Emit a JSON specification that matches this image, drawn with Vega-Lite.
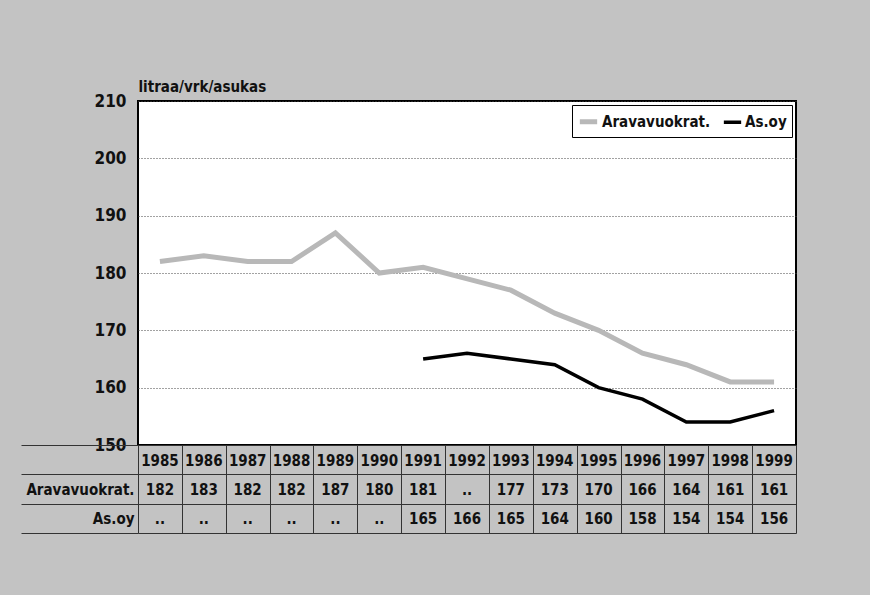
{
  "$schema": "https://vega.github.io/schema/vega-lite/v6.json",
  "background": "#c3c3c3",
  "padding": {"left": 20, "top": 78, "right": 80, "bottom": 70},
  "spacing": 0,
  "bounds": "flush",
  "config": {
    "font": "'DejaVu Sans Condensed', 'Liberation Sans Narrow', 'Noto Sans', sans-serif",
    "axis": {"labelFont": "'DejaVu Sans Condensed', 'Liberation Sans Narrow', sans-serif", "titleFont": "'DejaVu Sans Condensed', 'Liberation Sans Narrow', sans-serif", "labelFontWeight": "bold", "titleFontWeight": "bold", "labelColor": "#111", "titleColor": "#111"},
    "legend": {"labelFont": "'DejaVu Sans Condensed', 'Liberation Sans Narrow', sans-serif"}
  },
  "datasets": {
    "d": [
      {"year": "1985", "series": "Aravavuokrat.", "value": 182, "label": "182"},
      {"year": "1986", "series": "Aravavuokrat.", "value": 183, "label": "183"},
      {"year": "1987", "series": "Aravavuokrat.", "value": 182, "label": "182"},
      {"year": "1988", "series": "Aravavuokrat.", "value": 182, "label": "182"},
      {"year": "1989", "series": "Aravavuokrat.", "value": 187, "label": "187"},
      {"year": "1990", "series": "Aravavuokrat.", "value": 180, "label": "180"},
      {"year": "1991", "series": "Aravavuokrat.", "value": 181, "label": "181"},
      {"year": "1992", "series": "Aravavuokrat.", "value": null, "label": ".."},
      {"year": "1993", "series": "Aravavuokrat.", "value": 177, "label": "177"},
      {"year": "1994", "series": "Aravavuokrat.", "value": 173, "label": "173"},
      {"year": "1995", "series": "Aravavuokrat.", "value": 170, "label": "170"},
      {"year": "1996", "series": "Aravavuokrat.", "value": 166, "label": "166"},
      {"year": "1997", "series": "Aravavuokrat.", "value": 164, "label": "164"},
      {"year": "1998", "series": "Aravavuokrat.", "value": 161, "label": "161"},
      {"year": "1999", "series": "Aravavuokrat.", "value": 161, "label": "161"},
      {"year": "1985", "series": "As.oy", "value": null, "label": ".."},
      {"year": "1986", "series": "As.oy", "value": null, "label": ".."},
      {"year": "1987", "series": "As.oy", "value": null, "label": ".."},
      {"year": "1988", "series": "As.oy", "value": null, "label": ".."},
      {"year": "1989", "series": "As.oy", "value": null, "label": ".."},
      {"year": "1990", "series": "As.oy", "value": null, "label": ".."},
      {"year": "1991", "series": "As.oy", "value": 165, "label": "165"},
      {"year": "1992", "series": "As.oy", "value": 166, "label": "166"},
      {"year": "1993", "series": "As.oy", "value": 165, "label": "165"},
      {"year": "1994", "series": "As.oy", "value": 164, "label": "164"},
      {"year": "1995", "series": "As.oy", "value": 160, "label": "160"},
      {"year": "1996", "series": "As.oy", "value": 158, "label": "158"},
      {"year": "1997", "series": "As.oy", "value": 154, "label": "154"},
      {"year": "1998", "series": "As.oy", "value": 154, "label": "154"},
      {"year": "1999", "series": "As.oy", "value": 156, "label": "156"}
    ]
  },
  "resolve": {"scale": {"x": "independent", "y": "independent"}},
  "vconcat": [
    {
      "width": 658,
      "height": 344,
      "view": {"fill": "white", "stroke": "black", "strokeWidth": 2},
      "data": {"name": "d"},
      "transform": [{"filter": "datum.value != null"}],
      "mark": {"type": "line", "strokeJoin": "miter"},
      "encoding": {
        "x": {"field": "year", "type": "ordinal", "scale": {"type": "point", "padding": 0.5}, "axis": null},
        "y": {
          "field": "value", "type": "quantitative",
          "scale": {"domain": [150, 210], "nice": false, "zero": false},
          "axis": {
            "values": [150, 160, 170, 180, 190, 200, 210],
            "title": "litraa/vrk/asukas", "titleAngle": 0, "titleAlign": "left", "titleBaseline": "alphabetic",
            "titleX": 0, "titleY": -10, "titleFontSize": 15,
            "labelFontSize": 17, "labelPadding": 12, "ticks": false, "domain": false,
            "grid": true, "gridColor": "#444", "gridDash": [1, 2], "gridWidth": 1
          }
        },
        "color": {
          "field": "series", "type": "nominal",
          "scale": {"domain": ["Aravavuokrat.", "As.oy"], "range": ["#b8b8b8", "#000000"]},
          "legend": {
            "title": null, "orient": "top-right", "direction": "horizontal", "offset": 4,
            "fillColor": "white", "strokeColor": "black", "padding": 5,
            "symbolType": "stroke", "symbolSize": 300, "labelFontSize": 15,
            "labelFontWeight": "bold", "labelColor": "#111", "columnPadding": 5, "symbolOffset": 0, "labelOffset": 2
          }
        },
        "strokeWidth": {
          "field": "series", "type": "nominal",
          "scale": {"domain": ["Aravavuokrat.", "As.oy"], "range": [5, 3.5]},
          "legend": {
            "title": null, "orient": "top-right", "direction": "horizontal", "offset": 4,
            "fillColor": "white", "strokeColor": "black", "padding": 5,
            "symbolType": "stroke", "symbolSize": 300, "labelFontSize": 15,
            "labelFontWeight": "bold", "labelColor": "#111", "columnPadding": 5, "symbolOffset": 0, "labelOffset": 2
          }
        }
      }
    },
    {
      "width": 658,
      "height": 88,
      "view": {"stroke": null},
      "data": {"name": "d"},
      "encoding": {
        "x": {
          "field": "year", "type": "ordinal",
          "scale": {"type": "band", "paddingInner": 0, "paddingOuter": 0},
          "axis": {"orient": "bottom", "labels": false, "ticks": false, "domain": false, "title": null,
                   "minExtent": 0, "maxExtent": 0, "offset": 0,
                   "grid": true, "tickBand": "extent", "gridColor": "#333", "gridWidth": 1}
        }
      },
      "layer": [
        {
          "transform": [{"filter": "datum.series == 'As.oy'"}],
          "mark": {"type": "text", "fontSize": 15, "fontWeight": "bold", "color": "#111", "align": "center", "baseline": "middle", "dy": 1},
          "encoding": {
            "y": {
              "datum": " ", "type": "nominal",
              "scale": {"domain": [" ", "Aravavuokrat.", "As.oy"], "paddingInner": 0, "paddingOuter": 0},
              "axis": {
                "title": null, "domain": false, "grid": true, "tickBand": "extent",
                "gridColor": "#333", "gridWidth": 1,
                "tickSize": 117, "tickWidth": 1, "tickColor": "#333",
                "labelFontSize": 15, "labelPadding": -113,
                "encode": {"ticks": {"update": {"strokeOpacity": {"signal": "datum.extra ? 0 : 1"}}}}
              }
            },
            "text": {"field": "year"}
          }
        },
        {
          "mark": {"type": "text", "fontSize": 15, "fontWeight": "bold", "color": "#111", "align": "center", "baseline": "middle", "dy": 1},
          "encoding": {
            "y": {"field": "series", "type": "nominal"},
            "text": {"field": "label"}
          }
        }
      ]
    }
  ]
}
